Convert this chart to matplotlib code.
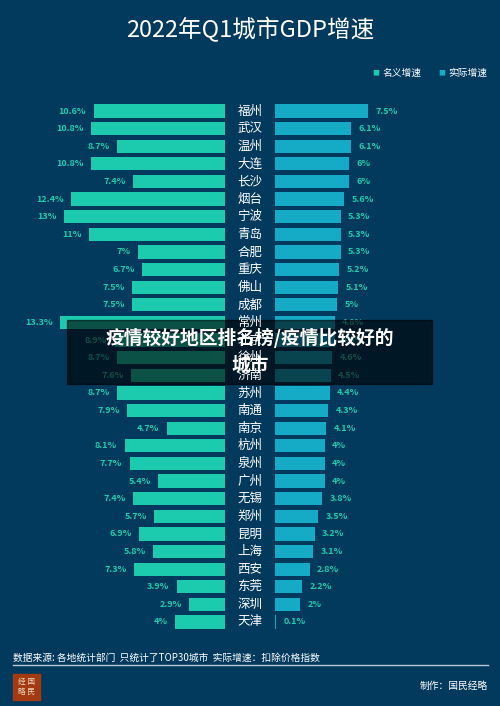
import matplotlib
matplotlib.use("Agg")
import matplotlib.pyplot as plt
from matplotlib.patches import Rectangle

plt.rcParams['font.family'] = ['Noto Sans CJK SC', 'DejaVu Sans']

cities = ["福州","武汉","温州","大连","长沙","烟台","宁波","青岛","合肥","重庆","佛山","成都",
          "常州","北京","徐州","济南","苏州","南通","南京","杭州","泉州","广州","无锡","郑州","昆明",
          "上海","西安","东莞","深圳","天津"]
nominal = [10.6,10.8,8.7,10.8,7.4,12.4,13,11,7,6.7,7.5,7.5,13.3,8.9,8.7,7.6,8.7,7.9,4.7,8.1,7.7,5.4,7.4,5.7,6.9,5.8,7.3,3.9,2.9,4]
real = [7.5,6.1,6.1,6,6,5.6,5.3,5.3,5.3,5.2,5.1,5,4.8,4.8,4.6,4.5,4.4,4.3,4.1,4,4,4,3.8,3.5,3.2,3.1,2.8,2.2,2,0.1]

BG = '#023a5e'
C1 = '#1ccbad'
C2 = '#15abc6'
W, H = 500, 706
fig = plt.figure(figsize=(5, 7.06), dpi=100, facecolor=BG)

n = len(cities)
pitch = (622 - 111) / (n - 1)
top = 111 - pitch / 2
bot = 622 + pitch / 2
scale = 12.4
axl = fig.add_axes([0, 1 - bot / H, 225 / W, (bot - top) / H])
axr = fig.add_axes([275 / W, 1 - bot / H, 225 / W, (bot - top) / H])
ys = list(range(n))
for ax in (axl, axr):
    ax.set_facecolor(BG)
    ax.set_ylim(n - 0.5, -0.5)
    ax.axis('off')
axl.set_xlim(225 / scale, 0)
axr.set_xlim(0, 225 / scale)
axl.barh(ys, nominal, height=0.75, color=C1)
axr.barh(ys, real, height=0.75, color=C2)
for y, v in zip(ys, nominal):
    axl.text(v + 0.6, y, f"{v:g}%", color=C1, fontsize=6.5, fontweight='bold', ha='right', va='center')
for y, v in zip(ys, real):
    axr.text(v + 0.6, y, f"{v:g}%", color=C1, fontsize=6.5, fontweight='bold', ha='left', va='center')
for i, c in enumerate(cities):
    yp = 1 - (111 + i * pitch) / H
    fig.text(0.5, yp, c, color='white', fontsize=9, ha='center', va='center')

fig.text(0.5, 1 - 30 / H, "2022年Q1城市GDP增速", color='white', fontsize=17, ha='center', va='center')
fig.text(372 / W, 1 - 73 / H, "■", color=C1, fontsize=5, ha='left', va='center')
fig.text(382 / W, 1 - 73 / H, "名义增速", color='white', fontsize=7, ha='left', va='center')
fig.text(438 / W, 1 - 73 / H, "■", color=C2, fontsize=5, ha='left', va='center')
fig.text(448 / W, 1 - 73 / H, "实际增速", color='white', fontsize=7, ha='left', va='center')

fig.text(13 / W, 1 - 658 / H, "数据来源: 各地统计部门  只统计了TOP30城市  实际增速：扣除价格指数",
         color='white', fontsize=7, ha='left', va='center')
fig.add_artist(plt.Line2D([13 / W, 488 / W], [1 - 665 / H] * 2, color='#b8c8d4', lw=1))
fig.text(488 / W, 1 - 686 / H, "制作：国民经略", color='white', fontsize=7, ha='right', va='center')
fig.add_artist(Rectangle((13 / W, 1 - 700 / H), 27 / W, 26 / H, color='#a33a12', transform=fig.transFigure))
fig.text(26.5 / W, 1 - 687 / H, "经 国\n略 民", color='#f0d8c0', fontsize=5.5, ha='center', va='center', linespacing=1.2)

fig.add_artist(Rectangle((67 / W, 1 - 384 / H), 365 / W, 64 / H, color='black', alpha=0.6, transform=fig.transFigure))
fig.text(0.5, 1 - 338 / H, "疫情较好地区排名榜/疫情比较好的", color='white', fontsize=13.5, fontweight='bold', ha='center', va='center')
fig.text(0.5, 1 - 365 / H, "城市", color='white', fontsize=13.5, fontweight='bold', ha='center', va='center')

fig.savefig("out.png", dpi=100, facecolor=BG)
